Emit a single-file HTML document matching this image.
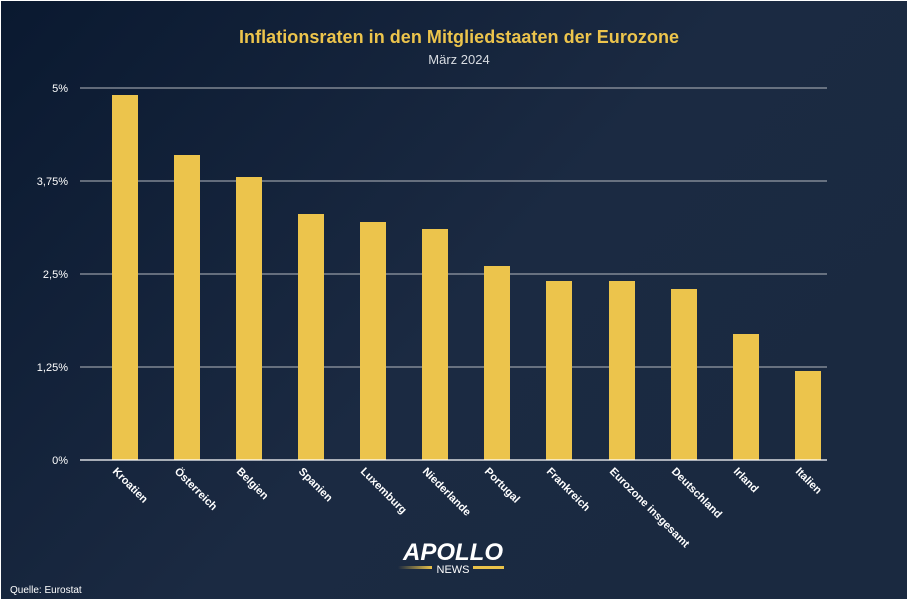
<!DOCTYPE html>
<html><head><meta charset="utf-8"><style>
html,body{margin:0;padding:0;background:#fff;}
svg{display:block;font-family:"Liberation Sans",sans-serif;}
</style></head><body>
<svg width="908" height="600" viewBox="0 0 908 600">
<defs>
<linearGradient id="bg" x1="0" y1="0" x2="1" y2="0.6">
<stop offset="0" stop-color="#0a1930"/>
<stop offset="0.6" stop-color="#1b2a42"/>
<stop offset="1" stop-color="#1a2940"/>
</linearGradient>
<linearGradient id="ln" x1="0" x2="1"><stop offset="0" stop-color="#e9c24a" stop-opacity="0"/><stop offset="1" stop-color="#e9c24a"/></linearGradient>
</defs>
<rect x="1" y="1" width="906" height="598" fill="url(#bg)"/>
<text x="459" y="43" text-anchor="middle" fill="#ecc44c" font-size="18" font-weight="bold" textLength="440">Inflationsraten in den Mitgliedstaaten der Eurozone</text>
<text x="459" y="64" text-anchor="middle" fill="#d8dce2" font-size="13">März 2024</text>
<g stroke="#b4b8be" stroke-width="1">
<line x1="80" y1="88" x2="827" y2="88"/>
<line x1="80" y1="181" x2="827" y2="181"/>
<line x1="80" y1="274" x2="827" y2="274"/>
<line x1="80" y1="367" x2="827" y2="367"/>
</g>
<g fill="#fff" font-size="11" text-anchor="end">
<text x="68" y="92">5%</text>
<text x="68" y="185">3,75%</text>
<text x="68" y="278">2,5%</text>
<text x="68" y="371">1,25%</text>
<text x="68" y="464">0%</text>
</g>
<g fill="#ecc44c">
<rect x="112" y="95" width="26" height="365"/>
<rect x="174" y="155" width="26" height="305"/>
<rect x="236" y="177" width="26" height="283"/>
<rect x="298" y="214" width="26" height="246"/>
<rect x="360" y="222" width="26" height="238"/>
<rect x="422" y="229" width="26" height="231"/>
<rect x="484" y="266" width="26" height="194"/>
<rect x="546" y="281" width="26" height="179"/>
<rect x="609" y="281" width="26" height="179"/>
<rect x="671" y="289" width="26" height="171"/>
<rect x="733" y="334" width="26" height="126"/>
<rect x="795" y="371" width="26" height="89"/>
</g>
<line x1="80" y1="460" x2="827" y2="460" stroke="#fff" stroke-width="1.2"/>
<g fill="#fff" font-size="11" font-weight="bold">
<text transform="translate(112,472) rotate(45)">Kroatien</text>
<text transform="translate(174,472) rotate(45)">Österreich</text>
<text transform="translate(236,472) rotate(45)">Belgien</text>
<text transform="translate(298,472) rotate(45)">Spanien</text>
<text transform="translate(360,472) rotate(45)">Luxemburg</text>
<text transform="translate(422,472) rotate(45)">Niederlande</text>
<text transform="translate(484,472) rotate(45)">Portugal</text>
<text transform="translate(546,472) rotate(45)">Frankreich</text>
<text transform="translate(609,472) rotate(45)">Eurozone insgesamt</text>
<text transform="translate(671,472) rotate(45)">Deutschland</text>
<text transform="translate(733,472) rotate(45)">Irland</text>
<text transform="translate(795,472) rotate(45)">Italien</text>
</g>
<text x="453" y="560" text-anchor="middle" fill="#fff" font-size="24" font-weight="bold" font-style="italic">APOLLO</text>
<rect x="398" y="566" width="34" height="3" fill="url(#ln)"/>
<rect x="473" y="566" width="31" height="3" fill="#e9c24a"/>
<text x="453" y="573" text-anchor="middle" fill="#fff" font-size="11">NEWS</text>
<text x="10" y="593" fill="#fff" font-size="10">Quelle: Eurostat</text>
</svg>
</body></html>
